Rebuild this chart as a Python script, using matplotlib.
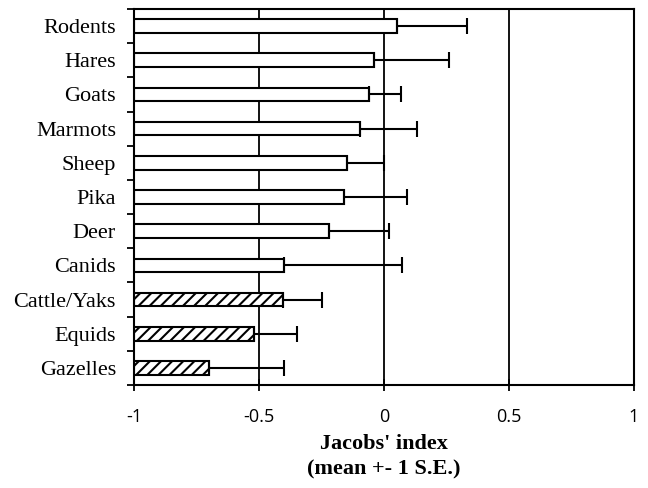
import numpy as np
import matplotlib
matplotlib.use("Agg")
from matplotlib import pyplot as plt

# data, top to bottom
species = ["Rodents", "Hares", "Goats", "Marmots", "Sheep", "Pika",
           "Deer", "Canids", "Cattle/Yaks", "Equids", "Gazelles"]
mean_idx = [0.052, -0.04, -0.06, -0.097, -0.148, -0.16,
            -0.22, -0.40, -0.405, -0.52, -0.70]
upper_err = [0.33, 0.26, 0.068, 0.133, 0.0, 0.092,
             0.02, 0.07, -0.25, -0.35, -0.40]
hatched = [False] * 8 + [True] * 3

plt.rcParams['hatch.linewidth'] = 1.5

fig = plt.figure(figsize=(6.48, 4.88), dpi=100)
ax = fig.add_axes([0.2068, 0.2111, 0.7716, 0.7705])

n = len(species)
ypos = np.arange(n)[::-1]
mean_idx = np.array(mean_idx)
se = np.array(upper_err) - mean_idx

# vertical grid lines under the bars
for gx in [-0.5, 0, 0.5]:
    ax.axvline(gx, color="black", lw=1.3, zorder=0)

widths = mean_idx - (-1)
for y, w, h in zip(ypos, widths, hatched):
    ax.barh(y, w, left=-1, height=0.4, color="white", edgecolor="black",
            linewidth=1.5, hatch="///" if h else None, zorder=2)

ax.errorbar(mean_idx, ypos, xerr=[np.zeros(n), se], fmt="none",
            ecolor="black", elinewidth=1.5, capsize=6, capthick=1.5, zorder=3)

ax.set_xlim(-1, 1)
ax.set_ylim(-0.5, n - 0.5)
ax.set_xticks([-1, -0.5, 0, 0.5, 1])
ax.set_xticklabels(["-1", "-0.5", "0", "0.5", "1"], fontfamily="Open Sans",
                   fontsize=13)
ax.set_yticks(ypos)
ax.set_yticklabels(species, fontfamily="Liberation Serif", fontsize=16)
ax.set_yticks(np.arange(-0.5, n, 1), minor=True)
ax.tick_params(axis="y", which="major", length=0, pad=13)
ax.tick_params(axis="y", which="minor", length=5, width=1.3, direction="out")
ax.tick_params(axis="x", which="major", length=9, width=1.3,
               direction="inout", pad=12)

for sp in ax.spines.values():
    sp.set_linewidth(1.5)

ax.set_xlabel("Jacobs' index\n(mean +- 1 S.E.)", fontfamily="Liberation Serif",
              fontweight="bold", fontsize=16, labelpad=6, linespacing=1.35)

fig.savefig("out.png", dpi=100)
